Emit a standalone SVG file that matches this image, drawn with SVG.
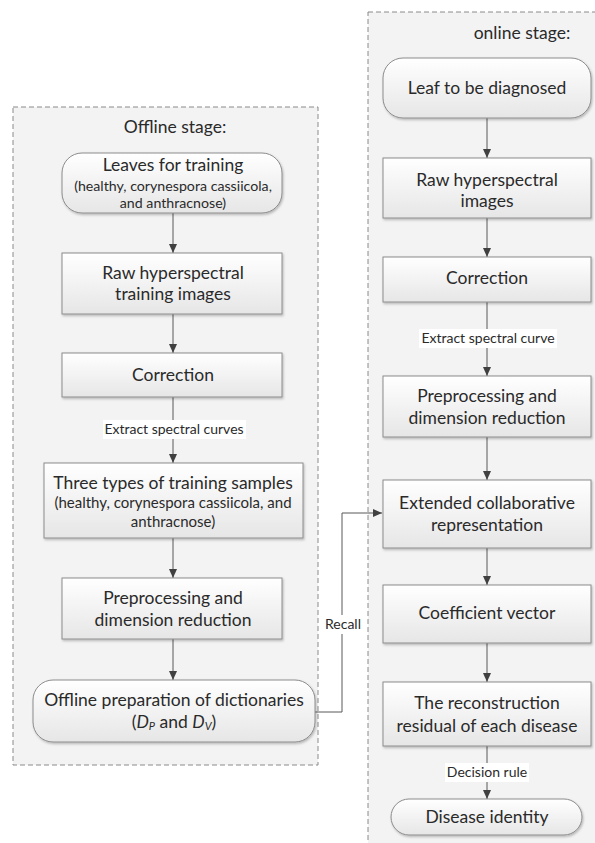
<svg xmlns="http://www.w3.org/2000/svg" width="595" height="843" viewBox="0 0 595 843">
<style>
.panel{fill:#f3f3f3;stroke:#8a8a8a;stroke-width:1;stroke-dasharray:5,3}
.box{fill:url(#g);stroke:#8c8c8c;stroke-width:1;filter:url(#sh)}
.t{font-family:Lato,"Open Sans","Liberation Sans",sans-serif;font-size:17.5px;fill:#2a2a2a;text-anchor:middle}
.s{font-family:Lato,"Open Sans","Liberation Sans",sans-serif;font-size:14.2px;fill:#2a2a2a;text-anchor:middle}
.s2{font-family:Lato,"Open Sans","Liberation Sans",sans-serif;font-size:15px;fill:#2a2a2a;text-anchor:middle}
.lbl{font-family:Lato,"Open Sans","Liberation Sans",sans-serif;font-size:14px;fill:#2a2a2a;text-anchor:middle}
.ln{fill:none;stroke:#595959;stroke-width:1}
.bg{fill:#ffffff}
</style>
<defs>
<linearGradient id="g" x1="0" y1="0" x2="0" y2="1">
<stop offset="0" stop-color="#ffffff"/>
<stop offset="1" stop-color="#e6e6e6"/>
</linearGradient>
<filter id="sh" x="-10%" y="-10%" width="120%" height="130%">
<feDropShadow dx="1" dy="1.5" stdDeviation="1" flood-color="#000" flood-opacity="0.25"/>
</filter>
<marker id="ah" markerWidth="9" markerHeight="8" refX="9" refY="4" orient="auto" markerUnits="userSpaceOnUse">
<path d="M0,0 L9,4 L0,8 Z" fill="#404040"/>
</marker>
</defs>
<rect width="595" height="843" fill="#ffffff"/>
<g id="offline-panel">
<rect class="panel" x="13" y="107" width="305" height="658"/>
<text class="t" x="175" y="133">Offline stage:</text>
</g>
<g id="online-panel">
<rect class="panel" x="368" y="12" width="240" height="850"/>
<text class="t" x="522" y="39">online stage:</text>
</g>
<g id="connectors">
<path class="ln" d="M173,213 V253" marker-end="url(#ah)"/>
<path class="ln" d="M173,314 V353" marker-end="url(#ah)"/>
<path class="ln" d="M173,397 V463" marker-end="url(#ah)"/>
<rect class="bg" x="103" y="420" width="143" height="19"/>
<text class="lbl" x="174" y="434">Extract spectral curves</text>
<path class="ln" d="M173,538 V578" marker-end="url(#ah)"/>
<path class="ln" d="M173,639 V680" marker-end="url(#ah)"/>
<path class="ln" d="M315,712 H342 V513 H382" marker-end="url(#ah)"/>
<rect class="bg" x="322" y="615" width="42" height="19"/>
<text class="lbl" x="343" y="629">Recall</text>
<path class="ln" d="M487,118 V158" marker-end="url(#ah)"/>
<path class="ln" d="M487,218 V257" marker-end="url(#ah)"/>
<path class="ln" d="M487,302 V376" marker-end="url(#ah)"/>
<rect class="bg" x="419" y="329" width="138" height="19"/>
<text class="lbl" x="488" y="343">Extract spectral curve</text>
<path class="ln" d="M487,437 V480" marker-end="url(#ah)"/>
<path class="ln" d="M487,548 V585" marker-end="url(#ah)"/>
<path class="ln" d="M487,643 V682" marker-end="url(#ah)"/>
<path class="ln" d="M487,746 V799" marker-end="url(#ah)"/>
<rect class="bg" x="445" y="763" width="84" height="19"/>
<text class="lbl" x="487" y="777">Decision rule</text>
</g>
<g id="leaves">
<rect class="box" x="62" y="153" width="220" height="60" rx="20"/>
<text class="t" x="173" y="171">Leaves for training</text>
<text class="s" x="173" y="191">(healthy, corynespora cassiicola,</text>
<text class="s" x="173" y="208">and anthracnose)</text>
</g>
<g id="raw-training">
<rect class="box" x="62" y="253" width="220" height="61"/>
<text class="t" x="173" y="279">Raw hyperspectral</text>
<text class="t" x="173" y="300">training images</text>
</g>
<g id="correction-left">
<rect class="box" x="62" y="353" width="220" height="44"/>
<text class="t" x="173" y="381">Correction</text>
</g>
<g id="three-types">
<rect class="box" x="44" y="463" width="259" height="75"/>
<text class="t" x="173" y="489">Three types of training samples</text>
<text class="s2" x="173" y="508">(healthy, corynespora cassiicola, and</text>
<text class="s2" x="173" y="527">anthracnose)</text>
</g>
<g id="preproc-left">
<rect class="box" x="62" y="578" width="220" height="61"/>
<text class="t" x="173" y="604">Preprocessing and</text>
<text class="t" x="173" y="626">dimension reduction</text>
</g>
<g id="offline-prep">
<rect class="box" x="33" y="680" width="282" height="62" rx="20"/>
<text class="t" x="174" y="706">Offline preparation of dictionaries</text>
<text class="t" x="174" y="728">(<tspan font-style="italic">D</tspan><tspan font-size="11" font-style="italic" dy="2">P</tspan><tspan dy="-2"> and </tspan><tspan font-style="italic">D</tspan><tspan font-size="11" font-style="italic" dy="2">V</tspan><tspan dy="-2">)</tspan></text>
</g>
<g id="leaf-diag">
<rect class="box" x="383" y="58" width="208" height="60" rx="20"/>
<text class="t" x="487" y="94">Leaf to be diagnosed</text>
</g>
<g id="raw-online">
<rect class="box" x="383" y="158" width="208" height="60"/>
<text class="t" x="487" y="186">Raw hyperspectral</text>
<text class="t" x="487" y="207">images</text>
</g>
<g id="correction-right">
<rect class="box" x="383" y="257" width="208" height="45"/>
<text class="t" x="487" y="284">Correction</text>
</g>
<g id="preproc-right">
<rect class="box" x="383" y="376" width="208" height="61"/>
<text class="t" x="487" y="402">Preprocessing and</text>
<text class="t" x="487" y="424">dimension reduction</text>
</g>
<g id="extended">
<rect class="box" x="383" y="480" width="208" height="68"/>
<text class="t" x="487" y="509">Extended collaborative</text>
<text class="t" x="487" y="531">representation</text>
</g>
<g id="coefficient">
<rect class="box" x="383" y="585" width="208" height="58"/>
<text class="t" x="487" y="619">Coefficient vector</text>
</g>
<g id="residual">
<rect class="box" x="383" y="682" width="208" height="64"/>
<text class="t" x="487" y="709">The reconstruction</text>
<text class="t" x="487" y="732">residual of each disease</text>
</g>
<g id="identity">
<rect class="box" x="391" y="799" width="191" height="36" rx="18"/>
<text class="t" x="487" y="823">Disease identity</text>
</g>
</svg>
